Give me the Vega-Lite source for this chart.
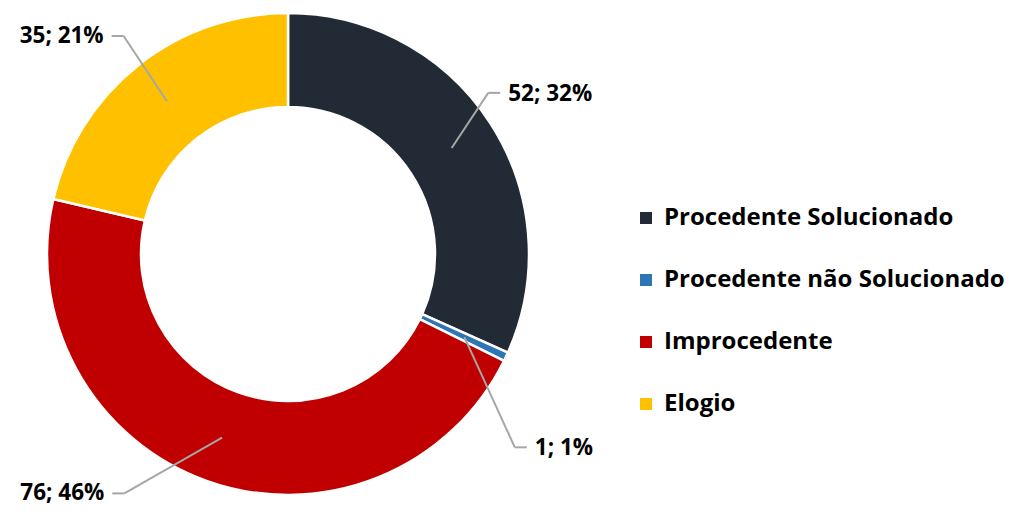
{
  "$schema": "https://vega.github.io/schema/vega-lite/v6.json",
  "width": 576,
  "height": 508,
  "padding": 0,
  "autosize": {"type": "pad"},
  "background": "white",
  "config": {"view": {"stroke": null}, "font": "Open Sans"},
  "data": {
    "values": [
      {"category": "Procedente Solucionado", "value": 52, "label": "52; 32%", "order": 1},
      {"category": "Procedente não Solucionado", "value": 1, "label": "1; 1%", "order": 2},
      {"category": "Improcedente", "value": 76, "label": "76; 46%", "order": 3},
      {"category": "Elogio", "value": 35, "label": "35; 21%", "order": 4}
    ]
  },
  "transform": [
    {"stack": "value", "groupby": [], "sort": [{"field": "order", "order": "ascending"}], "as": ["start", "end"]},
    {"joinaggregate": [{"op": "sum", "field": "value", "as": "total"}]},
    {"calculate": "PI*(datum.start+datum.end)/datum.total", "as": "mid"},
    {"calculate": "datum.order==1?-5.9:datum.order==2?15.2:datum.order==3?14.6:1.4", "as": "shift"},
    {"calculate": "datum.order==1?257:datum.order==2?298:datum.order==3?290:273", "as": "rb"},
    {"calculate": "datum.order<=2?1:-1", "as": "side"},
    {"calculate": "195*sin(datum.mid)", "as": "ix"},
    {"calculate": "-195*cos(datum.mid)", "as": "iy"},
    {"calculate": "datum.rb*sin(datum.mid+datum.shift*PI/180)", "as": "bx"},
    {"calculate": "-datum.rb*cos(datum.mid+datum.shift*PI/180)", "as": "by"},
    {"calculate": "datum.bx+12*datum.side", "as": "hx"},
    {"calculate": "datum.hx+8*datum.side", "as": "tx"}
  ],
  "layer": [
    {
      "mark": {"type": "arc", "outerRadius": 241, "innerRadius": 147, "stroke": "white", "strokeWidth": 2.5},
      "encoding": {
        "theta": {"field": "start", "type": "quantitative", "scale": {"domain": [0, 164]}},
        "theta2": {"field": "end"},
        "color": {
          "field": "category",
          "type": "nominal",
          "scale": {
            "domain": ["Procedente Solucionado", "Procedente não Solucionado", "Improcedente", "Elogio"],
            "range": ["#222A35", "#2E75B6", "#C00000", "#FFC000"]
          },
          "legend": {
            "orient": "none",
            "legendX": 634,
            "legendY": 206,
            "title": null,
            "symbolType": "square",
            "symbolSize": 144,
            "symbolStrokeWidth": 0,
            "labelFontSize": 24,
            "labelFontWeight": "bold",
            "labelColor": "black",
            "labelFont": "Open Sans",
            "rowPadding": 38,
            "labelOffset": 6,
            "labelLimit": 0,
            "padding": 0
          }
        }
      }
    },
    {
      "mark": {"type": "rule", "color": "#A6A6A6", "strokeWidth": 2},
      "encoding": {
        "x": {"field": "ix", "type": "quantitative", "scale": {"domain": [-288, 288], "nice": false, "zero": false}, "axis": null},
        "y": {"field": "iy", "type": "quantitative", "scale": {"domain": [-254, 254], "nice": false, "zero": false, "reverse": true}, "axis": null},
        "x2": {"field": "bx"},
        "y2": {"field": "by"}
      }
    },
    {
      "mark": {"type": "rule", "color": "#A6A6A6", "strokeWidth": 2},
      "encoding": {
        "x": {"field": "bx", "type": "quantitative", "axis": null},
        "y": {"field": "by", "type": "quantitative", "axis": null},
        "x2": {"field": "hx"},
        "y2": {"field": "by"}
      }
    },
    {
      "transform": [{"filter": "datum.side > 0"}],
      "mark": {"type": "text", "align": "left", "baseline": "middle", "fontSize": 22.5, "fontWeight": "bold", "color": "black", "dy": 1},
      "encoding": {
        "x": {"field": "tx", "type": "quantitative", "axis": null},
        "y": {"field": "by", "type": "quantitative", "axis": null},
        "text": {"field": "label"}
      }
    },
    {
      "transform": [{"filter": "datum.side < 0"}],
      "mark": {"type": "text", "align": "right", "baseline": "middle", "fontSize": 22.5, "fontWeight": "bold", "color": "black", "dy": 0},
      "encoding": {
        "x": {"field": "tx", "type": "quantitative", "axis": null},
        "y": {"field": "by", "type": "quantitative", "axis": null},
        "text": {"field": "label"}
      }
    }
  ]
}
